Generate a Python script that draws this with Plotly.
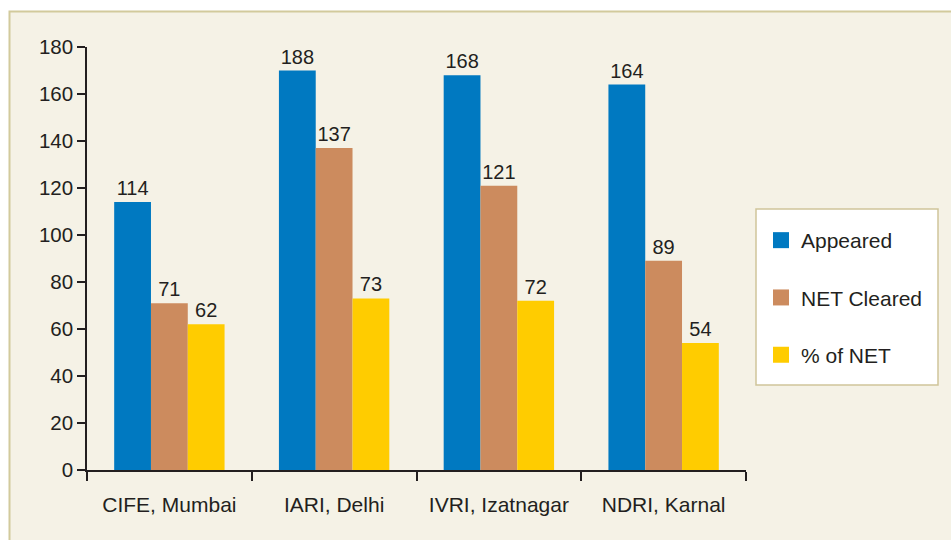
import plotly.graph_objects as go

categories = ["CIFE, Mumbai", "IARI, Delhi", "IVRI, Izatnagar", "NDRI, Karnal"]
# drawn bar heights (IARI bar is drawn at ~170 though labelled 188)
appeared = [114, 170, 168, 164]
appeared_labels = ["114", "188", "168", "164"]
net_cleared = [71, 137, 121, 89]
pct_net = [62, 73, 72, 54]
y_ticks = [0, 20, 40, 60, 80, 100, 120, 140, 160, 180]

BG = "#F5F2E6"
TXT = "#231F20"
FONT = "Liberation Sans, Arial, sans-serif"

fig = go.Figure()
series = [
    ("Appeared", appeared, appeared_labels, "#0079C1"),
    ("NET Cleared", net_cleared, [str(v) for v in net_cleared], "#CC8B5E"),
    ("% of NET", pct_net, [str(v) for v in pct_net], "#FFCC00"),
]
for name, vals, labels, col in series:
    fig.add_trace(go.Bar(
        x=categories, y=vals, name=name, legendgroup=name, showlegend=False,
        marker=dict(color=col, line=dict(width=0)),
        text=labels, textposition="outside", cliponaxis=False,
        textfont=dict(size=20, color=TXT, family=FONT),
    ))
# legend entries (square swatches)
for name, vals, labels, col in series:
    fig.add_trace(go.Scatter(
        x=[None], y=[None], mode="markers", name=name, legendgroup=name,
        marker=dict(symbol="square", size=16, color=col),
    ))

W, H = 951, 540
L, R, T, B = 87, 746, 47, 470
pw, ph = R - L, B - T
def px(x): return (x - L) / pw
def py(y): return (B - y) / ph

fig.update_layout(
    width=W, height=H,
    margin=dict(l=L, r=W - R, t=T, b=H - B, pad=0),
    paper_bgcolor="white", plot_bgcolor="rgba(0,0,0,0)",
    barmode="group", bargap=0.33, bargroupgap=0,
    font=dict(family=FONT, color=TXT),
    showlegend=True,
    legend=dict(
        x=px(761), y=py(220), xanchor="left", yanchor="top",
        bgcolor="rgba(0,0,0,0)", borderwidth=0, itemsizing="trace",
        font=dict(size=21, color=TXT, family=FONT),
        tracegroupgap=27, itemclick=False, itemdoubleclick=False,
    ),
    xaxis=dict(
        type="category", showline=True, linecolor=TXT, linewidth=1.5,
        ticks="outside", tickson="boundaries", ticklen=9, tickcolor=TXT, tickwidth=1.5,
        ticklabelstandoff=15,
        tickfont=dict(size=21, color=TXT, family=FONT), showgrid=False, zeroline=False,
    ),
    yaxis=dict(
        range=[0, 180], tickvals=y_ticks, showline=True, linecolor=TXT, linewidth=1.5,
        ticks="outside", ticklen=8, tickcolor=TXT, tickwidth=1.5,
        tickfont=dict(size=20.5, color=TXT, family=FONT), showgrid=False, zeroline=False,
    ),
    shapes=[
        dict(type="rect", xref="paper", yref="paper", layer="below",
             x0=px(9.5), x1=px(1000), y0=py(600), y1=py(11.5),
             fillcolor=BG, line=dict(color="#D2CA9C", width=2)),
        dict(type="rect", xref="paper", yref="paper", layer="below",
             x0=px(756), x1=px(938), y0=py(385), y1=py(209),
             fillcolor="white", line=dict(color="#CFC59A", width=1.5)),
    ],
)

fig.write_html("out.html", config={"displayModeBar": False},
               post_script="document.body.style.margin='0';")
